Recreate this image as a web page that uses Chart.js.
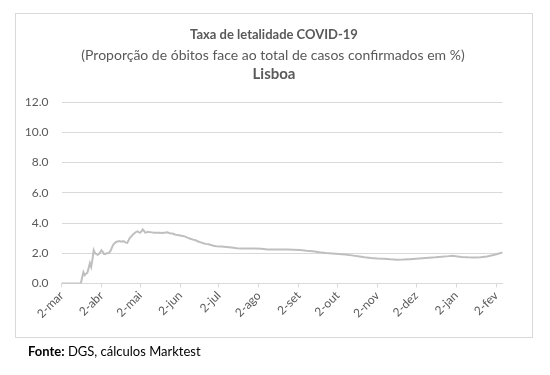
<!DOCTYPE html>
<html>
<head>
<meta charset="utf-8">
<script src="https://cdn.jsdelivr.net/npm/chart.js@4"></script>
<style>
    html, body { margin: 0; padding: 0; background: #fff; }
    #wrap { width: 550px; height: 375px; position: relative; }
</style>
</head>
<body>
<div id="wrap"><canvas id="cfrChart" width="550" height="375"></canvas></div>
<script>
// days counted from 2-mar (2020)
const days = [
    0, 14, 15, 16, 17, 18, 19, 20, 21, 22, 23, 24, 25, 26, 27, 28, 29, 30,
    31, 32, 33, 34, 35, 36, 37, 38, 39, 40, 41, 42, 43, 44, 45, 46, 47, 48,
    49, 50, 51, 52, 53, 54, 55, 56, 57, 58, 59, 60, 61, 62, 63, 64, 65, 66,
    67, 68, 70, 72, 74, 76, 78, 80, 82, 84, 86, 88, 90, 92, 94, 96, 98, 100,
    102, 104, 106, 108, 110, 112, 114, 116, 118, 120, 124, 128, 132, 136, 140,
    145, 150, 155, 160, 165, 170, 175, 180, 185, 190, 195, 200, 205, 210, 215,
    220, 225, 230, 235, 240, 245, 250, 255, 260, 265, 270, 275, 280, 285, 290,
    295, 300, 303, 306, 310, 315, 320, 325, 330, 335, 338, 342
];
const rates = [
    0.0, 0.0, 0.0, 0.4, 0.75, 0.55, 0.65, 0.7, 1.0, 1.35, 1.1, 1.6, 2.2, 2.0, 1.95, 1.9, 1.95, 2.05,
    2.2, 2.1, 1.95, 1.95, 2.0, 2.0, 2.05, 2.15, 2.35, 2.55, 2.65, 2.72, 2.78, 2.78, 2.8, 2.78, 2.76, 2.8,
    2.75, 2.7, 2.68, 2.85, 3.02, 3.1, 3.2, 3.28, 3.36, 3.42, 3.45, 3.38, 3.36, 3.45, 3.58, 3.48, 3.36, 3.38,
    3.42, 3.4, 3.38, 3.36, 3.35, 3.36, 3.34, 3.36, 3.38, 3.32, 3.3, 3.24, 3.2, 3.18, 3.14, 3.1, 3.02, 2.96,
    2.9, 2.86, 2.78, 2.72, 2.66, 2.62, 2.6, 2.55, 2.5, 2.46, 2.44, 2.42, 2.38, 2.33, 2.32,
    2.32, 2.31, 2.3, 2.25, 2.24, 2.24, 2.24, 2.23, 2.22, 2.17, 2.13, 2.07, 2.02, 1.99, 1.95,
    1.91, 1.86, 1.8, 1.74, 1.69, 1.66, 1.64, 1.6, 1.57, 1.58, 1.61, 1.64, 1.67, 1.7, 1.73,
    1.77, 1.81, 1.84, 1.8, 1.76, 1.73, 1.72, 1.73, 1.78, 1.88, 1.95, 2.06
];

const tickDays = [0, 31, 61, 92, 122, 153, 184, 214, 245, 275, 306, 337];
const tickLabels = ['2-mar', '2-abr', '2-mai', '2-jun', '2-jul', '2-ago', '2-set', '2-out', '2-nov', '2-dez', '2-jan', '2-fev'];
const yTicks = [0, 2, 4, 6, 8, 10, 12];

const titleText = 'Taxa de letalidade COVID-19';
const subtitleText = '(Proporção de óbitos face ao total de casos confirmados em %)';
const regionText = 'Lisboa';
const sourceBold = 'Fonte:';
const sourceText = ' DGS, cálculos Marktest';

const FONT = "Lato, 'Open Sans', sans-serif";
const TEXT_COLOR = '#595959';
const GRID_COLOR = '#d9d9d9';

// frame, headings and source note
const framePlugin = {
    id: 'frame',
    beforeDraw(chart) {
        const ctx = chart.ctx;
        ctx.save();
        ctx.fillStyle = '#fff';
        ctx.fillRect(0, 0, chart.width, chart.height);
        ctx.strokeStyle = GRID_COLOR;
        ctx.lineWidth = 1;
        ctx.strokeRect(15.5, 13.5, 517, 324);
        ctx.restore();
    },
    afterDraw(chart) {
        const ctx = chart.ctx;
        ctx.save();
        ctx.fillStyle = TEXT_COLOR;
        ctx.textAlign = 'center';
        ctx.textBaseline = 'middle';
        ctx.font = `bold 13px ${FONT}`;
        ctx.fillText(titleText, 274, 35);
        ctx.font = `14px ${FONT}`;
        ctx.fillText(subtitleText, 273, 55);
        ctx.font = `bold 15px ${FONT}`;
        ctx.fillText(regionText, 274, 74);

        ctx.fillStyle = '#000';
        ctx.textAlign = 'left';
        ctx.font = `bold 13px ${FONT}`;
        ctx.fillText(sourceBold, 28, 352);
        const w = ctx.measureText(sourceBold).width;
        ctx.font = `13px ${FONT}`;
        ctx.fillText(sourceText, 28 + w, 352);
        ctx.restore();
    }
};

new Chart(document.getElementById('cfrChart'), {
    type: 'line',
    data: {
        datasets: [{
            data: days.map((d, i) => ({ x: d, y: rates[i] })),
            borderColor: '#bfbfbf',
            borderWidth: 2,
            pointRadius: 0,
            tension: 0,
            fill: false
        }]
    },
    options: {
        responsive: false,
        animation: false,
        events: [],
        layout: {
            padding: { left: 0, right: 47.5, top: 102, bottom: 51.5 }
        },
        plugins: {
            legend: { display: false },
            tooltip: { enabled: false }
        },
        scales: {
            x: {
                type: 'linear',
                min: 0,
                max: 342,
                afterBuildTicks: (axis) => {
                    axis.ticks = tickDays.map(v => ({ value: v }));
                },
                afterFit: (axis) => { axis.height = 40; },
                grid: {
                    drawOnChartArea: false,
                    drawTicks: true,
                    tickLength: 4,
                    color: GRID_COLOR
                },
                border: { color: GRID_COLOR },
                ticks: {
                    autoSkip: false,
                    minRotation: 45,
                    maxRotation: 45,
                    padding: 1,
                    color: TEXT_COLOR,
                    font: { family: FONT, size: 12 },
                    callback: (v) => tickLabels[tickDays.indexOf(v)]
                }
            },
            y: {
                min: 0,
                max: 12,
                afterBuildTicks: (axis) => {
                    axis.ticks = yTicks.map(v => ({ value: v }));
                },
                afterFit: (axis) => { axis.width = 61.5; },
                grid: {
                    color: GRID_COLOR,
                    drawTicks: false
                },
                border: { display: false },
                ticks: {
                    padding: 13,
                    color: TEXT_COLOR,
                    font: { family: FONT, size: 12 },
                    callback: (v) => v.toFixed(1)
                }
            }
        }
    },
    plugins: [framePlugin]
});
</script>
</body>
</html>
